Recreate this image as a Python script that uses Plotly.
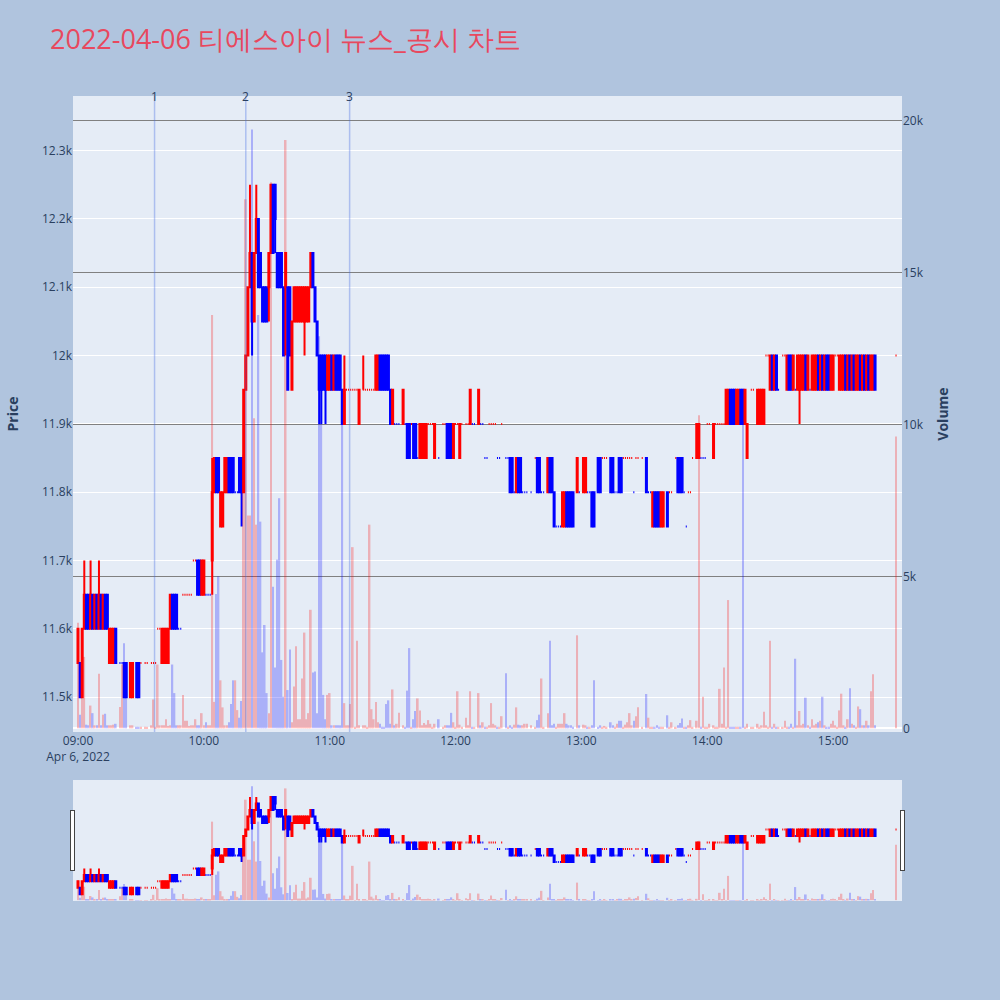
import pandas as pd
import plotly.graph_objects as go
from plotly.subplots import make_subplots

# minutes after 09:00 on 2022-04-06
minutes = [
    0, 1, 2, 3, 4, 5, 6, 7, 8, 9,
    10, 11, 12, 13, 14, 15, 16, 17, 18, 20,
    21, 22, 23, 25, 26, 28, 29, 30, 32, 33,
    35, 36, 37, 38, 39, 40, 41, 42, 43, 44,
    45, 46, 47, 48, 49, 50, 51, 52, 53, 54,
    55, 56, 57, 58, 59, 60, 61, 62, 63, 64,
    65, 66, 67, 68, 69, 70, 71, 72, 73, 74,
    75, 76, 77, 78, 79, 80, 81, 82, 83, 84,
    85, 86, 87, 88, 89, 90, 91, 92, 93, 94,
    95, 96, 97, 98, 99, 100, 101, 102, 103, 104,
    105, 106, 107, 108, 109, 110, 111, 112, 113, 114,
    115, 116, 117, 118, 119, 120, 121, 122, 123, 124,
    125, 126, 127, 128, 129, 130, 131, 132, 133, 134,
    136, 137, 138, 139, 140, 141, 142, 143, 144, 145,
    146, 147, 148, 149, 150, 151, 152, 153, 155, 156,
    157, 158, 159, 160, 161, 162, 163, 164, 165, 166,
    167, 168, 169, 170, 172, 174, 175, 176, 177, 178,
    179, 180, 181, 182, 183, 185, 186, 187, 188, 189,
    191, 192, 193, 194, 195, 196, 197, 198, 199, 200,
    201, 202, 204, 205, 206, 207, 208, 209, 210, 211,
    212, 213, 214, 216, 218, 219, 220, 221, 222, 224,
    225, 226, 227, 228, 229, 230, 231, 232, 233, 234,
    235, 236, 238, 239, 241, 242, 243, 244, 245, 246,
    248, 249, 250, 251, 252, 254, 255, 256, 257, 258,
    259, 260, 261, 262, 263, 264, 265, 266, 267, 269,
    271, 272, 273, 274, 275, 276, 277, 278, 279, 281,
    282, 283, 285, 286, 287, 288, 289, 290, 291, 292,
    293, 295, 296, 297, 298, 299, 300, 301, 303, 304,
    305, 306, 307, 308, 309, 310, 311, 312, 313, 314,
    315, 316, 317, 318, 319, 321, 322, 324, 325, 326,
    327, 328, 329, 330, 331, 332, 333, 334, 336, 337,
    338, 339, 340, 341, 342, 343, 344, 345, 346, 347,
    348, 349, 350, 351, 352, 353, 354, 355, 356, 357,
    358, 359, 360, 361, 362, 363, 364, 365, 366, 367,
    368, 369, 370, 371, 372, 373, 374, 375, 376, 377,
    378, 379, 380, 390,
]

opens = [
    11550, 11550, 11500, 11600, 11650, 11650, 11600, 11650, 11600, 11650,
    11600, 11650, 11600, 11650, 11650, 11550, 11550, 11550, 11600, 11550,
    11550, 11550, 11550, 11500, 11500, 11550, 11550, 11550, 11550, 11550,
    11550, 11550, 11550, 11600, 11600, 11550, 11550, 11550, 11550, 11600,
    11650, 11650, 11650, 11600, 11600, 11650, 11650, 11650, 11650, 11650,
    11700, 11700, 11700, 11700, 11650, 11650, 11650, 11650, 11650, 11700,
    11800, 11850, 11850, 11750, 11750, 11800, 11800, 11850, 11850, 11850,
    11800, 11800, 11850, 11850, 11800, 11950, 12000, 12100, 12150, 12050,
    12150, 12200, 12150, 12100, 12100, 12100, 12100, 12150, 12250, 12250,
    12150, 12150, 12150, 12100, 12100, 12100, 12100, 11950, 12050, 12050,
    12050, 12050, 12050, 12050, 12050, 12050, 12100, 12150, 12100, 12050,
    12000, 12000, 12000, 12000, 11950, 11950, 12000, 11950, 12000, 12000,
    12000, 11950, 11900, 11950, 11950, 11950, 11950, 11950, 11950, 11900,
    11950, 11950, 11950, 11950, 11950, 11950, 11950, 11950, 12000, 12000,
    12000, 12000, 12000, 11950, 11900, 11900, 11900, 11900, 11900, 11900,
    11900, 11900, 11900, 11900, 11900, 11850, 11850, 11850, 11850, 11850,
    11900, 11900, 11900, 11850, 11850, 11900, 11900, 11900, 11900, 11900,
    11850, 11900, 11900, 11850, 11900, 11900, 11900, 11900, 11900, 11900,
    11900, 11900, 11900, 11850, 11850, 11900, 11900, 11900, 11900, 11850,
    11850, 11900, 11850, 11850, 11850, 11850, 11800, 11800, 11850, 11850,
    11800, 11800, 11800, 11800, 11850, 11850, 11850, 11800, 11800, 11800,
    11850, 11850, 11800, 11750, 11750, 11750, 11750, 11750, 11800, 11800,
    11800, 11800, 11800, 11800, 11800, 11800, 11800, 11800, 11800, 11800,
    11850, 11850, 11850, 11850, 11850, 11850, 11850, 11800, 11800, 11850,
    11850, 11850, 11850, 11850, 11850, 11850, 11800, 11850, 11850, 11850,
    11850, 11800, 11800, 11750, 11800, 11800, 11800, 11750, 11750, 11800,
    11800, 11800, 11850, 11850, 11850, 11850, 11800, 11750, 11800, 11800,
    11850, 11850, 11850, 11850, 11850, 11850, 11900, 11900, 11850, 11900,
    11900, 11900, 11900, 11900, 11900, 11900, 11950, 11950, 11950, 11900,
    11900, 11950, 11950, 11900, 11850, 11950, 11950, 11900, 11900, 11900,
    11900, 12000, 12000, 11950, 12000, 11950, 12000, 11950, 12000, 12000,
    11950, 12000, 12000, 11950, 11950, 11950, 11950, 11950, 11950, 12000,
    11950, 11950, 11950, 11950, 11950, 12000, 11950, 12000, 11950, 12000,
    12000, 11950, 11950, 12000, 12000, 11950, 11950, 11950, 12000, 11950,
    12000, 11950, 12000, 11950, 11950, 12000, 11950, 12000, 11950, 12000,
    11950, 11950, 12000, 12000,
]

highs = [
    11600, 11550, 11600, 11700, 11650, 11650, 11700, 11650, 11650, 11650,
    11700, 11650, 11650, 11650, 11650, 11600, 11600, 11600, 11600, 11550,
    11550, 11550, 11550, 11550, 11550, 11550, 11550, 11550, 11550, 11550,
    11550, 11550, 11550, 11600, 11600, 11600, 11600, 11600, 11600, 11650,
    11650, 11650, 11650, 11600, 11600, 11650, 11650, 11650, 11650, 11650,
    11700, 11700, 11700, 11700, 11700, 11700, 11650, 11650, 11650, 11850,
    11850, 11850, 11850, 11800, 11800, 11850, 11850, 11850, 11850, 11850,
    11800, 11800, 11850, 11850, 11950, 12000, 12100, 12250, 12150, 12150,
    12250, 12200, 12150, 12100, 12100, 12100, 12150, 12250, 12250, 12250,
    12150, 12150, 12150, 12100, 12150, 12100, 12100, 12050, 12100, 12100,
    12100, 12100, 12100, 12100, 12100, 12100, 12150, 12150, 12100, 12050,
    12000, 12000, 12000, 12000, 12000, 12000, 12000, 12000, 12000, 12000,
    12000, 11950, 12000, 11950, 11950, 11950, 11950, 11950, 11950, 11950,
    12000, 11950, 11950, 11950, 11950, 11950, 12000, 12000, 12000, 12000,
    12000, 12000, 12000, 11950, 11950, 11900, 11900, 11900, 11950, 11900,
    11900, 11900, 11900, 11900, 11900, 11850, 11900, 11900, 11900, 11900,
    11900, 11900, 11900, 11900, 11850, 11900, 11900, 11900, 11900, 11900,
    11900, 11900, 11900, 11900, 11900, 11900, 11900, 11950, 11900, 11900,
    11950, 11900, 11900, 11850, 11850, 11900, 11900, 11900, 11900, 11850,
    11850, 11900, 11850, 11850, 11850, 11850, 11800, 11850, 11850, 11850,
    11800, 11800, 11800, 11800, 11850, 11850, 11850, 11800, 11800, 11850,
    11850, 11850, 11800, 11750, 11750, 11750, 11800, 11800, 11800, 11800,
    11800, 11800, 11850, 11800, 11850, 11850, 11800, 11800, 11800, 11800,
    11850, 11850, 11850, 11850, 11850, 11850, 11850, 11800, 11800, 11850,
    11850, 11850, 11850, 11850, 11850, 11850, 11800, 11850, 11850, 11850,
    11850, 11800, 11800, 11800, 11800, 11800, 11800, 11800, 11800, 11800,
    11800, 11800, 11850, 11850, 11850, 11850, 11800, 11750, 11800, 11800,
    11850, 11900, 11900, 11850, 11850, 11850, 11900, 11900, 11900, 11900,
    11900, 11900, 11900, 11900, 11950, 11950, 11950, 11950, 11950, 11950,
    11950, 11950, 11950, 11950, 11900, 11950, 11950, 11950, 11950, 11950,
    11950, 12000, 12000, 12000, 12000, 12000, 12000, 11950, 12000, 12000,
    12000, 12000, 12000, 12000, 11950, 12000, 12000, 12000, 12000, 12000,
    12000, 11950, 12000, 12000, 12000, 12000, 12000, 12000, 12000, 12000,
    12000, 12000, 12000, 12000, 12000, 12000, 12000, 12000, 12000, 12000,
    12000, 12000, 12000, 12000, 12000, 12000, 12000, 12000, 12000, 12000,
    12000, 12000, 12000, 12000,
]

lows = [
    11550, 11500, 11500, 11600, 11600, 11600, 11600, 11600, 11600, 11600,
    11600, 11600, 11600, 11600, 11600, 11550, 11550, 11550, 11550, 11550,
    11550, 11500, 11500, 11500, 11500, 11500, 11500, 11550, 11550, 11550,
    11550, 11550, 11550, 11600, 11600, 11550, 11550, 11550, 11550, 11600,
    11600, 11600, 11600, 11600, 11600, 11650, 11650, 11650, 11650, 11650,
    11700, 11700, 11650, 11650, 11650, 11650, 11650, 11650, 11650, 11650,
    11800, 11800, 11800, 11750, 11750, 11800, 11800, 11800, 11800, 11800,
    11800, 11800, 11800, 11750, 11800, 11950, 12000, 12100, 12000, 12050,
    12150, 12100, 12100, 12050, 12050, 12050, 12050, 12150, 12150, 12150,
    12100, 12100, 12100, 12000, 12000, 11950, 12000, 11950, 12050, 12050,
    12050, 12050, 12050, 12000, 12050, 12050, 12100, 12100, 12050, 12000,
    11900, 11900, 11950, 11900, 11950, 11950, 11950, 11950, 11950, 11950,
    11950, 11900, 11900, 11950, 11950, 11950, 11950, 11950, 11950, 11900,
    11950, 11950, 11950, 11950, 11950, 11950, 11950, 11950, 11950, 11950,
    11950, 11950, 11950, 11900, 11900, 11900, 11900, 11900, 11900, 11900,
    11850, 11850, 11900, 11850, 11850, 11850, 11850, 11850, 11850, 11850,
    11900, 11900, 11900, 11850, 11850, 11900, 11900, 11850, 11850, 11850,
    11850, 11900, 11900, 11850, 11900, 11900, 11900, 11900, 11900, 11900,
    11900, 11900, 11900, 11850, 11850, 11900, 11900, 11900, 11900, 11850,
    11850, 11900, 11850, 11850, 11800, 11800, 11800, 11800, 11800, 11800,
    11800, 11800, 11800, 11800, 11850, 11800, 11800, 11800, 11800, 11800,
    11800, 11800, 11750, 11750, 11750, 11750, 11750, 11750, 11750, 11750,
    11750, 11750, 11800, 11800, 11800, 11800, 11800, 11800, 11750, 11750,
    11800, 11800, 11850, 11850, 11850, 11800, 11800, 11800, 11800, 11800,
    11800, 11850, 11850, 11850, 11850, 11850, 11800, 11850, 11850, 11850,
    11800, 11800, 11800, 11750, 11750, 11750, 11750, 11750, 11750, 11750,
    11800, 11800, 11850, 11800, 11800, 11800, 11800, 11750, 11800, 11800,
    11850, 11850, 11850, 11850, 11850, 11850, 11900, 11900, 11850, 11900,
    11900, 11900, 11900, 11900, 11900, 11900, 11900, 11900, 11900, 11900,
    11900, 11900, 11900, 11900, 11850, 11950, 11950, 11900, 11900, 11900,
    11900, 12000, 12000, 11950, 11950, 11950, 11950, 11950, 12000, 12000,
    11950, 11950, 11950, 11950, 11950, 11950, 11900, 11950, 11950, 11950,
    11950, 11950, 11950, 11950, 11950, 11950, 11950, 11950, 11950, 11950,
    11950, 11950, 11950, 12000, 12000, 11950, 11950, 11950, 11950, 11950,
    11950, 11950, 11950, 11950, 11950, 11950, 11950, 11950, 11950, 11950,
    11950, 11950, 11950, 12000,
]

closes = [
    11600, 11500, 11600, 11650, 11600, 11600, 11650, 11600, 11650, 11600,
    11650, 11600, 11650, 11600, 11600, 11600, 11600, 11600, 11550, 11550,
    11550, 11500, 11500, 11550, 11550, 11500, 11500, 11550, 11550, 11550,
    11550, 11550, 11550, 11600, 11600, 11600, 11600, 11600, 11600, 11650,
    11600, 11600, 11600, 11600, 11600, 11650, 11650, 11650, 11650, 11650,
    11700, 11700, 11650, 11650, 11700, 11700, 11650, 11650, 11650, 11800,
    11850, 11800, 11800, 11800, 11800, 11850, 11850, 11800, 11800, 11800,
    11800, 11800, 11800, 11800, 11950, 12000, 12100, 12150, 12050, 12150,
    12200, 12100, 12100, 12050, 12050, 12050, 12150, 12250, 12150, 12200,
    12100, 12100, 12100, 12000, 12150, 11950, 12000, 12050, 12100, 12100,
    12100, 12100, 12100, 12100, 12100, 12100, 12150, 12100, 12050, 12000,
    11950, 11950, 11950, 11950, 12000, 12000, 11950, 12000, 11950, 11950,
    11950, 11900, 11950, 11950, 11950, 11950, 11950, 11950, 11950, 11950,
    11950, 11950, 11950, 11950, 11950, 11950, 12000, 12000, 11950, 11950,
    11950, 11950, 11950, 11900, 11950, 11900, 11900, 11900, 11950, 11900,
    11850, 11850, 11900, 11850, 11850, 11850, 11900, 11900, 11900, 11900,
    11900, 11900, 11900, 11900, 11850, 11900, 11900, 11850, 11850, 11850,
    11900, 11900, 11900, 11900, 11900, 11900, 11900, 11950, 11900, 11900,
    11950, 11900, 11900, 11850, 11850, 11900, 11900, 11900, 11900, 11850,
    11850, 11900, 11850, 11850, 11800, 11800, 11800, 11850, 11800, 11800,
    11800, 11800, 11800, 11800, 11850, 11800, 11800, 11800, 11800, 11850,
    11800, 11800, 11750, 11750, 11750, 11750, 11800, 11800, 11750, 11750,
    11750, 11750, 11850, 11800, 11850, 11850, 11800, 11800, 11750, 11750,
    11800, 11800, 11850, 11850, 11850, 11800, 11800, 11800, 11800, 11800,
    11800, 11850, 11850, 11850, 11850, 11850, 11800, 11850, 11850, 11850,
    11800, 11800, 11800, 11800, 11750, 11750, 11750, 11800, 11800, 11750,
    11800, 11800, 11850, 11800, 11800, 11800, 11800, 11750, 11800, 11800,
    11850, 11900, 11900, 11850, 11850, 11850, 11900, 11900, 11900, 11900,
    11900, 11900, 11900, 11900, 11950, 11950, 11900, 11900, 11900, 11950,
    11950, 11900, 11900, 11950, 11900, 11950, 11950, 11950, 11950, 11950,
    11950, 12000, 12000, 12000, 11950, 12000, 11950, 11950, 12000, 12000,
    12000, 11950, 11950, 12000, 11950, 12000, 12000, 12000, 12000, 11950,
    12000, 11950, 12000, 12000, 12000, 11950, 12000, 11950, 12000, 11950,
    11950, 12000, 12000, 12000, 12000, 12000, 12000, 12000, 11950, 12000,
    11950, 12000, 11950, 12000, 12000, 11950, 12000, 11950, 12000, 11950,
    12000, 12000, 11950, 12000,
]

volumes = [
    3470, 450, 1040, 2350, 120, 100, 750, 500, 100, 100,
    1800, 100, 450, 480, 100, 100, 100, 120, 150, 700,
    2100, 2800, 1160, 100, 100, 50, 50, 50, 50, 50,
    100, 950, 50, 2100, 100, 100, 100, 300, 80, 100,
    2100, 1160, 100, 100, 100, 1100, 250, 250, 80, 100,
    100, 300, 100, 100, 500, 100, 200, 100, 100, 13600,
    870, 4420, 5000, 1580, 690, 100, 100, 200, 800, 1580,
    1580, 600, 350, 900, 9000, 17400, 7000, 7000, 19700, 10200,
    6700, 13600, 6800, 2500, 3400, 1160, 500, 17960, 4660, 2000,
    5550, 7570, 2250, 1040, 19350, 1260, 2590, 200, 1380, 2700,
    300, 300, 1640, 3150, 300, 500, 3900, 1840, 1870, 500,
    12900, 12000, 1100, 300, 1100, 1160, 100, 100, 100, 100,
    100, 11000, 830, 100, 100, 800, 5960, 50, 2880, 100,
    100, 100, 50, 6700, 630, 300, 870, 200, 150, 50,
    50, 800, 920, 150, 1280, 100, 150, 510, 100, 50,
    1240, 2640, 50, 300, 570, 985, 590, 100, 180, 120,
    270, 150, 50, 150, 300, 50, 100, 100, 100, 510,
    200, 50, 1220, 120, 50, 350, 100, 1220, 50, 50,
    1160, 100, 200, 50, 50, 100, 830, 150, 100, 50,
    50, 400, 1810, 50, 100, 50, 120, 690, 120, 100,
    100, 150, 150, 100, 50, 270, 450, 1640, 50, 500,
    2880, 100, 150, 50, 150, 150, 150, 500, 150, 100,
    100, 50, 3060, 100, 120, 100, 50, 50, 100, 1580,
    50, 100, 50, 80, 50, 200, 100, 50, 150, 250,
    250, 50, 120, 200, 500, 100, 250, 400, 690, 50,
    1130, 350, 50, 50, 50, 100, 50, 50, 50, 430,
    50, 200, 50, 100, 180, 320, 50, 50, 100, 270,
    50, 250, 10300, 50, 1040, 50, 50, 150, 100, 50,
    50, 1300, 150, 2000, 50, 4220, 50, 50, 50, 50,
    50, 50, 10100, 50, 150, 50, 50, 150, 50, 100,
    545, 100, 50, 2880, 50, 150, 50, 50, 50, 250,
    50, 50, 150, 50, 2290, 100, 570, 100, 150, 1010,
    100, 50, 300, 100, 150, 200, 250, 1040, 100, 50,
    50, 150, 250, 100, 50, 590, 1140, 100, 50, 300,
    1320, 150, 100, 50, 720, 630, 100, 100, 250, 100,
    1220, 1780, 100, 9600,
]

event_times = ["2022-04-06 09:36:30", "2022-04-06 10:20", "2022-04-06 11:09:30"]
event_labels = ["1", "2", "3"]

x_range = ["2022-04-06 08:57:37", "2022-04-06 15:32:51"]
price_range = [11449, 12380]
volume_range = [-120, 20800]

start = pd.Timestamp("2022-04-06 09:00")
times = [start + pd.Timedelta(minutes=m) for m in minutes]

# volume colour follows candle direction
vol_colors = []
prev_close = None
for o, c in zip(opens, closes):
    if c > o:
        up = True
    elif c < o:
        up = False
    else:
        up = prev_close is None or c >= prev_close
    vol_colors.append("red" if up else "blue")
    prev_close = c

fig = make_subplots(specs=[[{"secondary_y": True}]])

fig.add_trace(
    go.Candlestick(
        x=times, open=opens, high=highs, low=lows, close=closes,
        increasing=dict(line=dict(color="red"), fillcolor="red"),
        decreasing=dict(line=dict(color="blue"), fillcolor="blue"),
        name="Price", showlegend=False,
    ),
    secondary_y=False,
)
fig.add_trace(
    go.Bar(x=times, y=volumes, marker=dict(color=vol_colors, line=dict(width=0)),
           opacity=0.25, name="Volume", showlegend=False),
    secondary_y=True,
)

for t, lab in zip(event_times, event_labels):
    fig.add_shape(type="line", x0=t, x1=t, y0=0, y1=1, xref="x", yref="paper",
                  line=dict(color="rgba(65,105,225,0.35)", width=1.5))
    fig.add_annotation(x=t, y=1, xref="x", yref="paper", text=lab, showarrow=False,
                       yanchor="middle", font=dict(size=12, color="#2a3f5f"))

fig.update_layout(
    width=1000, height=1000,
    paper_bgcolor="lightsteelblue",
    margin=dict(l=72, r=98, t=96, b=100),
    title=dict(text="2022-04-06 티에스아이 뉴스_공시 차트", x=0.05, xanchor="left",
               y=0.96, yanchor="middle", font=dict(size=27, color="#E8485E")),
    showlegend=False,
    bargap=0.2,
)
fig.update_xaxes(domain=[0, 1], showgrid=False, range=x_range,
                 rangeslider=dict(visible=True, thickness=0.15, range=x_range))
fig.update_yaxes(title=dict(text="<b>Price</b>", font=dict(size=14), standoff=20),
                 range=price_range, secondary_y=False)
fig.update_yaxes(title=dict(text="<b>Volume</b>", font=dict(size=14)),
                 range=volume_range, secondary_y=True, gridcolor="gray")

fig.write_html("out.html", config={"displayModeBar": False},
               post_script="document.body.style.margin='0';")
